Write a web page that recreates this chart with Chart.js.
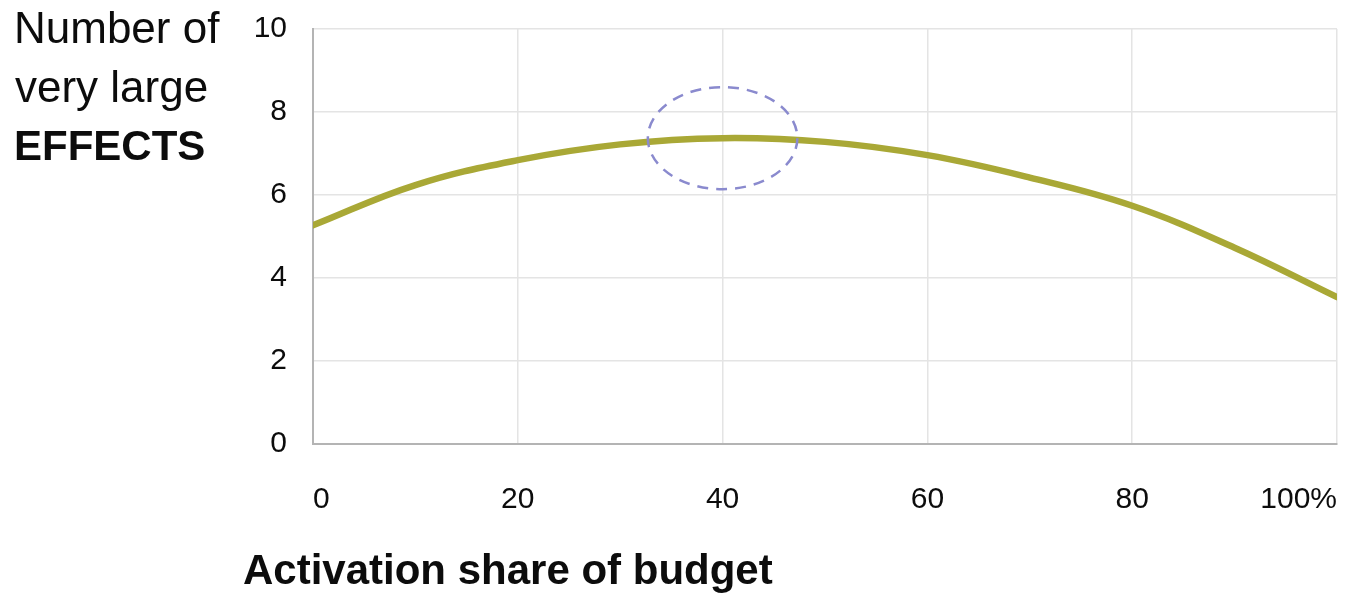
<!DOCTYPE html>
<html>
<head>
<meta charset="utf-8">
<script src="https://cdn.jsdelivr.net/npm/chart.js@4.4.0/dist/chart.umd.min.js"></script>
<style>
  html, body { margin: 0; padding: 0; background: #ffffff; }
  #wrap { width: 1360px; height: 594px; position: relative; }
</style>
</head>
<body>
<div id="wrap"><canvas id="chart" width="1360" height="594"></canvas></div>
<script>
// Activation share of budget (%) and number of very large effects
const activationShare = [0, 10, 20, 30, 40, 50, 60, 70, 80, 90, 100];
const largeEffects    = [5.27, 6.24, 6.84, 7.22, 7.37, 7.28, 6.96, 6.42, 5.74, 4.73, 3.54];

const xTicks = [0, 20, 40, 60, 80, 100];
const yTicks = [0, 2, 4, 6, 8, 10];

// Highlighted optimum: centre (share, effects) and half-widths in axis units
const optimumCentre = [40, 7.37];
const optimumRadius = [7.3, 1.23];

const yTitleLines = ['Number of', 'very large', 'EFFECTS'];
const xTitle = 'Activation share of budget';

const FONT = '"Liberation Sans", Arial, sans-serif';
const INK = '#0c0c0c';

const titles = {
  id: 'titles',
  afterDraw(chart) {
    const ctx = chart.ctx;
    ctx.save();
    ctx.fillStyle = INK;
    ctx.textAlign = 'left';
    ctx.textBaseline = 'alphabetic';
    ctx.font = '44px ' + FONT;
    ctx.fillText(yTitleLines[0], 14, 43);
    ctx.fillText(yTitleLines[1], 15, 102);
    ctx.font = 'bold 42px ' + FONT;
    ctx.fillText(yTitleLines[2], 14, 160);
    ctx.font = 'bold 42px ' + FONT;
    ctx.fillText(xTitle, 243, 584);
    ctx.restore();
  }
};

const optimumRing = {
  id: 'optimumRing',
  afterDatasetsDraw(chart) {
    const xs = chart.scales.x, ys = chart.scales.y;
    const cx = xs.getPixelForValue(optimumCentre[0]);
    const cy = ys.getPixelForValue(optimumCentre[1]);
    const rx = xs.getPixelForValue(optimumCentre[0] + optimumRadius[0]) - cx;
    const ry = cy - ys.getPixelForValue(optimumCentre[1] + optimumRadius[1]);
    const ctx = chart.ctx;
    ctx.save();
    ctx.strokeStyle = 'rgb(138,138,206)';
    ctx.lineWidth = 2.5;
    ctx.setLineDash([11, 8]);
    ctx.beginPath();
    ctx.ellipse(cx, cy, rx, ry, 0, 0, Math.PI * 2);
    ctx.stroke();
    ctx.restore();
  }
};

new Chart(document.getElementById('chart'), {
  type: 'line',
  data: {
    datasets: [{
      data: activationShare.map((s, i) => ({ x: s, y: largeEffects[i] })),
      borderColor: '#a9a836',
      borderWidth: 6.5,
      borderCapStyle: 'round',
      pointRadius: 0,
      tension: 0.4,
      fill: false
    }]
  },
  options: {
    responsive: false,
    animation: false,
    layout: { padding: { left: 0, right: 23, top: 29, bottom: 0 } },
    plugins: { legend: { display: false }, tooltip: { enabled: false } },
    scales: {
      x: {
        type: 'linear',
        min: 0, max: 100,
        afterBuildTicks: (s) => { s.ticks = xTicks.map(v => ({ value: v })); },
        afterFit: (s) => { s.height = 150; s.paddingLeft = 0; s.paddingRight = 0; },
        ticks: {
          align: 'inner',
          padding: 38,
          color: INK,
          font: { family: FONT, size: 30 },
          callback: (v) => v === 100 ? '100%' : String(v)
        },
        grid: { color: '#e4e4e4', lineWidth: 1.5, drawTicks: false },
        border: { display: true, color: '#b4b4b4', width: 2 }
      },
      y: {
        min: 0, max: 10,
        afterBuildTicks: (s) => { s.ticks = yTicks.map(v => ({ value: v })); },
        afterFit: (s) => { s.width = 313; s.paddingTop = 0; s.paddingBottom = 0; },
        ticks: {
          padding: 26,
          color: INK,
          font: { family: FONT, size: 30 }
        },
        grid: { color: '#e4e4e4', lineWidth: 1.5, drawTicks: false },
        border: { display: true, color: '#b4b4b4', width: 2 }
      }
    }
  },
  plugins: [optimumRing, titles]
});
</script>
</body>
</html>
